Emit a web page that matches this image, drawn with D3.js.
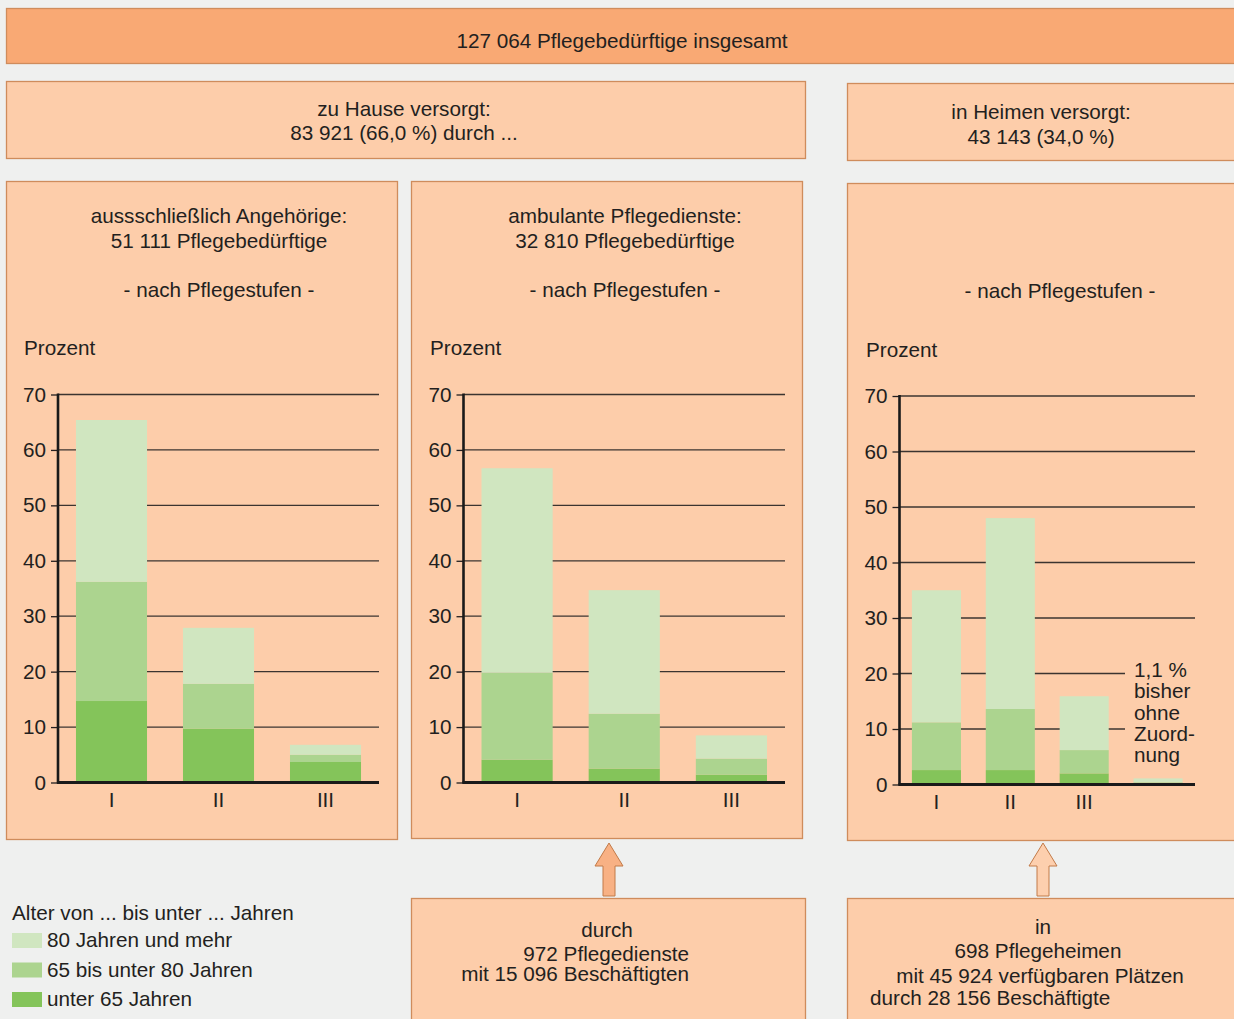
<!DOCTYPE html>
<html>
<head>
<meta charset="utf-8">
<script src="https://cdn.jsdelivr.net/npm/d3@7"></script>
<style>
  body { margin: 0; background: #eff0ef; }
  svg text { font-family: "Liberation Sans", Arial, sans-serif; fill: #231f20; }
</style>
</head>
<body>
<div id="chart"></div>
<script>
// data (percent per Pflegestufe)
var stufen = ["I", "II", "III"];
var heimStufen = ["I", "II", "III", "x"];
var ageKeys = ["u65", "a65", "a80"];
var legendLabels = ["80 Jahren und mehr", "65 bis unter 80 Jahren", "unter 65 Jahren"];
var yTicks = [0, 10, 20, 30, 40, 50, 60, 70];

var angehUnter65 = [14.7, 9.7, 3.7];
var angeh65bis80 = [21.5, 8.1, 1.3];
var angeh80plus = [29.2, 10.1, 1.8];

var ambulUnter65 = [4.1, 2.5, 1.4];
var ambul65bis80 = [15.7, 9.9, 2.9];
var ambul80plus = [36.9, 22.3, 4.2];

var heimUnter65 = [2.6, 2.6, 2.0, 0.1];
var heim65bis80 = [8.6, 11.0, 4.2, 0.3];
var heim80plus = [23.8, 34.4, 9.7, 0.7];

var colors = { u65: "#84c45a", a65: "#acd48f", a80: "#d0e6c0" };
var boxFill = "#fdcdaa";
var boxStroke = "#cf8c5c";
var fontSize = 20.7;

var svgWidth = 1234;
var svgHeight = 1019;

var svg = d3.select("#chart")
    .append("svg")
    .attr("width", svgWidth)
    .attr("height", svgHeight);

svg.append("rect").attr("width", svgWidth).attr("height", svgHeight).attr("fill", "#eff0ef");

function box(x, y, w, h, fill) {
    svg.append("rect")
        .attr("x", x + 0.5).attr("y", y + 0.5)
        .attr("width", w).attr("height", h)
        .attr("fill", fill || boxFill)
        .attr("stroke", boxStroke)
        .attr("stroke-width", 1.3);
}

function label(x, y, txt, anchor) {
    svg.append("text")
        .attr("x", x).attr("y", y)
        .attr("text-anchor", anchor || "middle")
        .attr("font-size", fontSize)
        .text(txt);
}

// boxes
box(6, 8, 1240, 55, "#f9a974");
box(6, 81, 799, 77);
box(847, 83, 400, 77);
box(6, 181, 391, 658);
box(411, 181, 391, 657);
box(847, 183, 400, 657);
box(411, 898, 394, 140);
box(847, 898, 400, 140);

label(622, 48, "127 064 Pflegebedürftige insgesamt");
label(404, 116, "zu Hause versorgt:");
label(404, 140, "83 921 (66,0 %) durch ...");
label(1041, 119, "in Heimen versorgt:");
label(1041, 144, "43 143 (34,0 %)");

label(219, 223, "aussschließlich Angehörige:");
label(219, 248, "51 111 Pflegebedürftige");
label(219, 297, "- nach Pflegestufen -");
label(24, 355, "Prozent", "start");

label(625, 223, "ambulante Pflegedienste:");
label(625, 248, "32 810 Pflegebedürftige");
label(625, 297, "- nach Pflegestufen -");
label(430, 355, "Prozent", "start");

label(1060, 298, "- nach Pflegestufen -");
label(866, 357, "Prozent", "start");

// bottom boxes
label(607, 937, "durch");
label(689, 961, "972 Pflegedienste", "end");
label(689, 981, "mit 15 096 Beschäftigten", "end");
label(1043, 934, "in");
label(1038, 958, "698 Pflegeheimen");
label(1040, 983, "mit 45 924 verfügbaren Plätzen");
label(870, 1005, "durch 28 156 Beschäftigte", "start");

// arrows
function arrow(cx, fill) {
    var top = 843, neck = 866, bottom = 896;
    var pts = [[cx, top], [cx + 14, neck], [cx + 6, neck], [cx + 6, bottom],
               [cx - 6, bottom], [cx - 6, neck], [cx - 14, neck]];
    svg.append("polygon")
        .attr("points", pts.map(p => p.join(",")).join(" "))
        .attr("fill", fill)
        .attr("stroke", "#c27a48")
        .attr("stroke-width", 1);
}
arrow(609, "#f8b184");
arrow(1043, "#fdcfae");

// one bar panel
function drawPanel(cats, u65, a65, a80, x0, x1, y0, y1, shortGrid) {
    var rows = cats.map((c, i) => ({ cat: c, u65: u65[i], a65: a65[i], a80: a80[i] }));
    var stacked = d3.stack().keys(ageKeys)(rows);

    var x = d3.scaleBand()
        .domain(cats)
        .range([x0, x1])
        .paddingInner(0.336)
        .paddingOuter(0.168);

    var y = d3.scaleLinear()
        .domain([0, 70])
        .range([y0, y1]);

    var g = svg.append("g");

    // grid lines
    g.selectAll(".grid")
        .data(yTicks.filter(t => t > 0))
        .enter()
        .append("line")
        .attr("x1", x0)
        .attr("x2", d => (shortGrid && d <= 20) ? shortGrid : x1)
        .attr("y1", d => y(d))
        .attr("y2", d => y(d))
        .attr("stroke", "#3b3430")
        .attr("stroke-width", 1.3);

    g.selectAll(".layer")
        .data(stacked)
        .enter()
        .append("g")
        .attr("fill", d => colors[d.key])
        .selectAll("rect")
        .data(d => d)
        .enter()
        .append("rect")
        .attr("x", d => x(d.data.cat))
        .attr("width", x.bandwidth())
        .attr("y", d => y(d[1]))
        .attr("height", d => y(d[0]) - y(d[1]));

    var leftAxis = d3.axisLeft(y)
        .tickValues(yTicks)
        .tickSize(7)
        .tickPadding(5);

    var yAxis = g.append("g")
        .attr("transform", `translate(${x0}, 0)`)
        .call(leftAxis);
    yAxis.select(".domain").remove();
    yAxis.selectAll("line").attr("stroke", "#231f20").attr("stroke-width", 1.3);
    yAxis.selectAll("text")
        .attr("font-size", fontSize)
        .attr("font-family", "Liberation Sans, Arial, sans-serif")
        .attr("fill", "#231f20");

    var bottomAxis = d3.axisBottom(x).tickSize(0).tickPadding(10)
        .tickFormat(d => d === "x" ? "" : d);
    var xAxis = g.append("g")
        .attr("transform", `translate(0, ${y0})`)
        .call(bottomAxis);
    xAxis.select(".domain").remove();
    xAxis.selectAll("text")
        .attr("font-size", fontSize)
        .attr("font-family", "Liberation Sans, Arial, sans-serif")
        .attr("fill", "#231f20");

    // axis lines
    g.append("line")
        .attr("x1", x0).attr("x2", x0)
        .attr("y1", y1 - 1).attr("y2", y0 + 1)
        .attr("stroke", "#1a1a1a").attr("stroke-width", 2.6);
    g.append("line")
        .attr("x1", x0 - 1).attr("x2", x1)
        .attr("y1", y0).attr("y2", y0)
        .attr("stroke", "#1a1a1a").attr("stroke-width", 3);
}

drawPanel(stufen, angehUnter65, angeh65bis80, angeh80plus, 58, 379, 782.5, 394.5, null);
drawPanel(stufen, ambulUnter65, ambul65bis80, ambul80plus, 463.5, 785, 782.5, 394.5, null);
drawPanel(heimStufen, heimUnter65, heim65bis80, heim80plus, 899.5, 1195, 784.5, 396, 1125);

// note for the unassigned bar
var noteLines = ["1,1 %", "bisher", "ohne", "Zuord-", "nung"];
noteLines.forEach(function(t, i) {
    label(1134, 677 + i * 21.3, t, "start");
});

// legend
label(12, 920, "Alter von ... bis unter ... Jahren", "start");
var legendColors = [colors.a80, colors.a65, colors.u65];
legendLabels.forEach(function(t, i) {
    svg.append("rect")
        .attr("x", 12).attr("y", 933 + i * 29.5)
        .attr("width", 30).attr("height", 15)
        .attr("fill", legendColors[i]);
    label(47, 947 + i * 29.5, t, "start");
});
</script>
</body>
</html>
